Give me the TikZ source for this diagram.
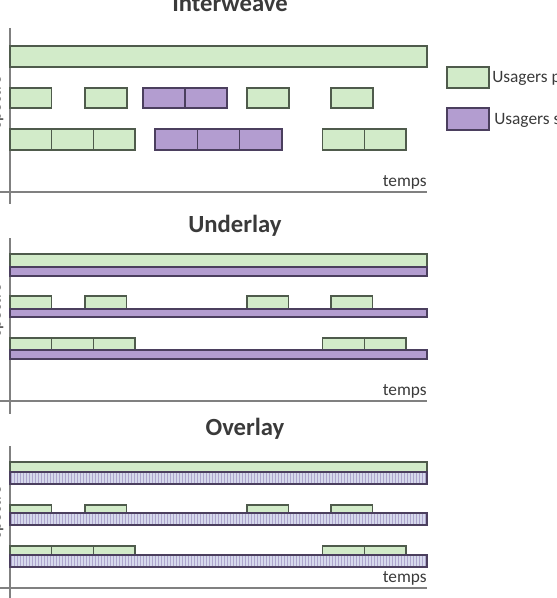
\documentclass[tikz,border=0pt]{standalone}
\usepackage{fontspec}
\setmainfont{Carlito}
\definecolor{primfill}{HTML}{D2EBC9}
\definecolor{primdraw}{HTML}{4F5B4C}
\definecolor{secfill}{HTML}{B39DD0}
\definecolor{secdraw}{HTML}{4B3F5E}
\definecolor{hatchbg}{HTML}{D6D9EC}
\definecolor{hatchfg}{HTML}{ADA5CD}
\definecolor{axiscol}{HTML}{808080}
\definecolor{textcol}{HTML}{3A3A3A}

\tikzset{
  prim/.style={fill=primfill, draw=primdraw, line width=1pt},
  sec/.style={fill=secfill, draw=secdraw, line width=1pt},
  axis/.style={draw=axiscol, line width=1.1pt},
  title/.style={font=\fontsize{18.5}{20}\selectfont\bfseries, text=textcol, inner sep=0pt},
  label/.style={font=\fontsize{13}{15}\selectfont, text=textcol, inner sep=0pt},
}

% bar of secondary users sharing the band (overlay)
\newcommand\hatchbar[2]{%
  \begin{scope}
    \clip (10,#1) rectangle (427,#2);
    \fill[hatchbg] (10,#1) rectangle (427,#2);
    \foreach \x in {11.5,14.5,...,427} \draw[hatchfg, line width=0.85pt] (\x,#1) -- (\x,#2);
  \end{scope}
  \draw[draw=secdraw, line width=1pt] (10,#1) rectangle (427,#2);
}

\begin{document}
\begin{tikzpicture}[x=0.75pt, y=-0.75pt]

  \useasboundingbox (0,0) rectangle (556,598);
  \clip (0,0) rectangle (556,598);

  % Interweave
  \node[title, anchor=base] (tinter) at (230,12) {Interweave};
  \coordinate (a1t) at (10,28);  \coordinate (a1b) at (10,204);
  \coordinate (a1l) at (0,192);  \coordinate (a1r) at (427,192);
  \draw[axis] (a1t) -- (a1b);
  \draw[axis] (a1l) -- (a1r);
  \node[label, anchor=base east] (temps1) at (427,187) {temps};
  \node[label, rotate=90, anchor=base] (spec1) at (0.5,102) {spectre};

  \draw[prim] (10,46) rectangle (427,67);
  % canal 2
  \draw[prim] (10,88) rectangle (51.7,108);
  \draw[prim] (85,88) rectangle (127,108);
  \draw[sec] (143,88) rectangle (185,108);
  \draw[sec] (185,88) rectangle (227,108);
  \draw[prim] (247,88) rectangle (289,108);
  \draw[prim] (331,88) rectangle (373,108);
  % canal 3
  \foreach \x in {10,51.7,93.4} \draw[prim] (\x,129) rectangle ++(41.7,21);
  \foreach \x in {155,197.3,239.6} \draw[sec] (\x,129) rectangle ++(42.3,21);
  \foreach \x in {322.5,364.2} \draw[prim] (\x,129) rectangle ++(41.7,21);

  % legende
  \draw[prim] (447,67) rectangle (489,88);
  \draw[sec] (447,108) rectangle (489,130);
  \node[label, anchor=west] (lprim) at (492,78) {Usagers primaires};
  \node[label, anchor=west] (lsec) at (494,120) {Usagers secondaires};

  % Underlay
  \node[title, anchor=base] (tunder) at (235,233) {Underlay};
  \coordinate (a2t) at (10,238);  \coordinate (a2b) at (10,414);
  \coordinate (a2l) at (0,401);   \coordinate (a2r) at (427,401);
  \draw[axis] (a2t) -- (a2b);
  \draw[axis] (a2l) -- (a2r);
  \node[label, anchor=base east] (temps2) at (427,395) {temps};
  \node[label, rotate=90, anchor=base] (spec2) at (0.5,310) {spectre};

  \draw[prim] (10,254) rectangle (427,267);
  \draw[sec] (10,267) rectangle (427,276);
  \foreach \x in {10,85,247,331} \draw[prim] (\x,296) rectangle ++(41.7,13);
  \draw[sec] (10,309) rectangle (427,317);
  \foreach \x in {10,51.7,93.4,322.5,364.2} \draw[prim] (\x,338) rectangle ++(41.7,12);
  \draw[sec] (10,350) rectangle (427,359);

  % Overlay
  \node[title, anchor=base] (tover) at (245,435) {Overlay};
  \coordinate (a3t) at (10,446);  \coordinate (a3b) at (10,600);
  \coordinate (a3l) at (0,588);   \coordinate (a3r) at (427,588);
  \draw[axis] (a3t) -- (a3b);
  \draw[axis] (a3l) -- (a3r);
  \node[label, anchor=base east] (temps3) at (427,582) {temps};
  \node[label, rotate=90, anchor=base] (spec3) at (0.5,512) {spectre};

  \draw[prim] (10,462) rectangle (427,472);
  \hatchbar{472}{484}
  \foreach \x in {10,85,247,331} \draw[prim] (\x,505) rectangle ++(41.7,8);
  \hatchbar{513}{525}
  \foreach \x in {10,51.7,93.4,322.5,364.2} \draw[prim] (\x,546) rectangle ++(41.7,9);
  \hatchbar{555}{567}

\end{tikzpicture}
\end{document}
